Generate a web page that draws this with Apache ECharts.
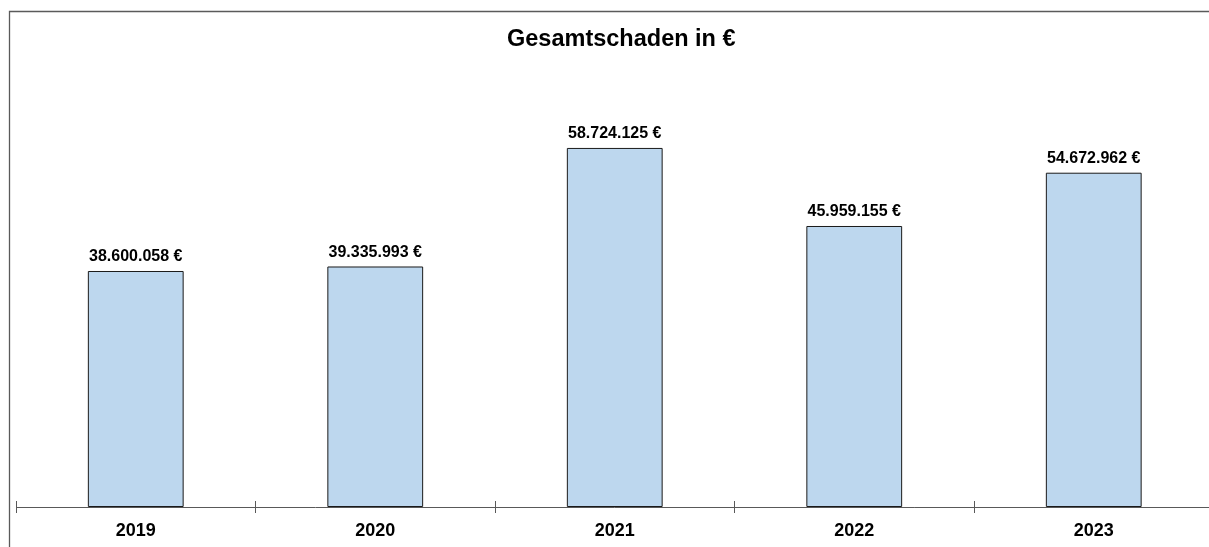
<!DOCTYPE html>
<html>
<head>
<meta charset="utf-8">
<script src="https://cdn.jsdelivr.net/npm/echarts@6/dist/echarts.min.js"></script>
<style>
html,body{margin:0;padding:0;background:#fff;overflow:hidden;width:1209px;height:547px;}
#chart{width:1216px;height:547px;}
</style>
</head>
<body>
<div id="chart"></div>
<script>
const titleText = 'Gesamtschaden in €';
const categories = ['2019', '2020', '2021', '2022', '2023'];
const values = [38600058, 39335993, 58724125, 45959155, 54672962];

function fmt(v) {
  return String(Math.round(v)).replace(/\B(?=(\d{3})+(?!\d))/g, '.') + ' €';
}

const FONT = "Arial, 'Liberation Sans', sans-serif";
const chart = echarts.init(document.getElementById('chart'));
chart.setOption({
  animation: false,
  backgroundColor: '#ffffff',
  title: {
    text: titleText,
    left: 502,
    top: 23,
    padding: 5,
    textStyle: { fontFamily: FONT, fontSize: 23.5, fontWeight: 'bold', color: '#000' }
  },
  graphic: [{
    type: 'rect',
    shape: { x: 9.5, y: 11.5, width: 1400, height: 800 },
    style: { fill: 'none', stroke: '#5a5a5a', lineWidth: 1.3 },
    silent: true, z: -1
  }],
  grid: { left: 16, width: 1197.5, top: 79, bottom: 40, containLabel: false },
  xAxis: {
    type: 'category',
    data: categories,
    offset: -6,
    axisLine: { show: false },
    axisTick: { show: true, length: 12, lineStyle: { color: '#595959', width: 1 } },
    axisLabel: { margin: 21, fontFamily: FONT, fontSize: 18, fontWeight: 'bold', color: '#000' }
  },
  yAxis: {
    type: 'value',
    min: 0, max: 70000000, interval: 70000000,
    axisLine: { show: false }, axisTick: { show: false }, axisLabel: { show: false },
    splitLine: { show: true, lineStyle: { color: ['#595959', 'rgba(0,0,0,0)'], width: 1 } }
  },
  series: [{
    type: 'bar',
    data: values,
    barWidth: '40%',
    itemStyle: { color: '#BDD7EE', borderColor: '#1a1a1a', borderWidth: 1 },
    label: {
      show: true, position: 'top', distance: 6,
      formatter: p => fmt(p.value),
      fontFamily: FONT, fontSize: 16, fontWeight: 'bold', color: '#000'
    }
  }]
});
</script>
</body>
</html>
